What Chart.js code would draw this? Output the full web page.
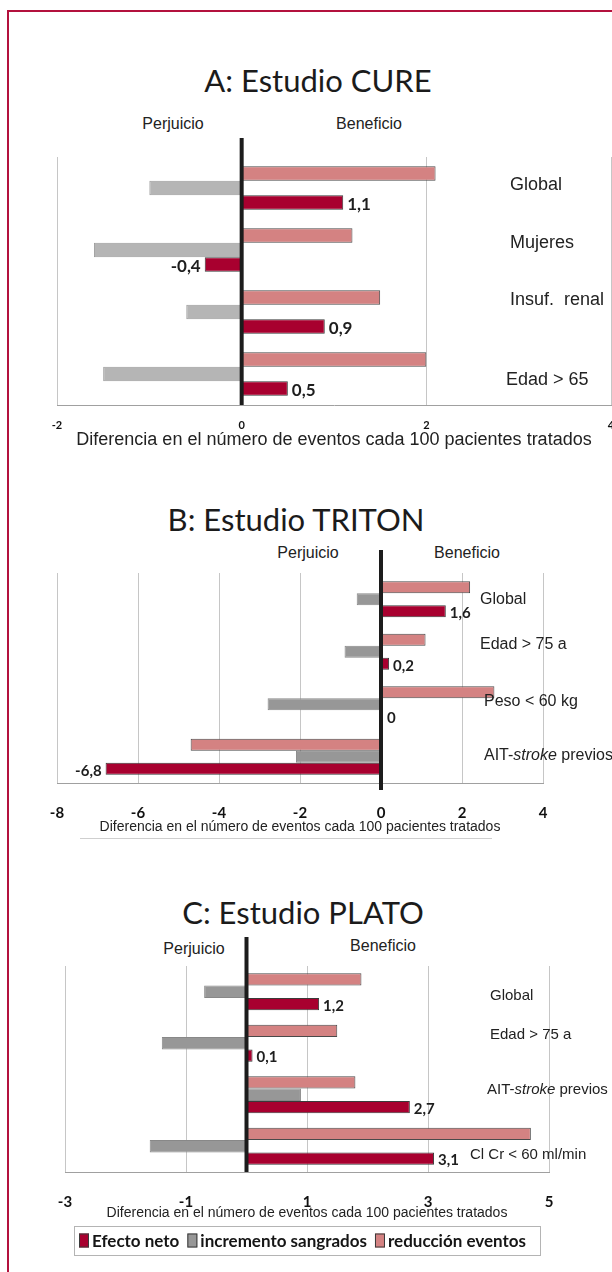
<!DOCTYPE html>
<html>
<head>
<meta charset="utf-8">
<script src="https://cdn.jsdelivr.net/npm/chart.js@4"></script>
<style>
  body { margin: 0; width: 612px; height: 1272px; background: #fff; position: relative; overflow: hidden;
         font-family: 'Liberation Sans', Arial, sans-serif; }
  .frame { position: absolute; left: 7px; top: 10px; width: 700px; height: 1400px; border: 2px solid #b3113d; }
  .panel { position: absolute; left: 0; width: 612px; }
  .ttl { position: absolute; font-family: Lato, sans-serif; font-size: 31px; line-height: 31px; color: #1b1b1b;
         transform: translateX(-50%); white-space: nowrap; }
  .side { position: absolute; font-size: 16px; line-height: 16px; color: #222; transform: translateX(-50%); white-space: nowrap; }
</style>
</head>
<body>
<div class="frame"></div>

<div class="ttl" style="left:318px; top:65px;">A: Estudio CURE</div>
<div class="side" style="left:173px; top:116px;">Perjuicio</div>
<div class="side" style="left:369px; top:116px;">Beneficio</div>
<div class="panel" style="top:130px; height:332px;"><canvas id="cure"></canvas></div>

<div class="ttl" style="left:296px; top:504px;">B: Estudio TRITON</div>
<div class="side" style="left:308px; top:545px;">Perjuicio</div>
<div class="side" style="left:467px; top:545px;">Beneficio</div>
<div class="panel" style="top:543px; height:302px;"><canvas id="triton"></canvas></div>

<div class="ttl" style="left:303px; top:897px;">C: Estudio PLATO</div>
<div class="side" style="left:194px; top:941px;">Perjuicio</div>
<div class="side" style="left:383px; top:938px;">Beneficio</div>
<div class="panel" style="top:935px; height:330px;"><canvas id="plato"></canvas></div>

<script>
// series names
const serieNames = ['Efecto neto', 'incremento sangrados', 'reducción eventos'];
const xTitle = 'Diferencia en el número de eventos cada 100 pacientes tratados';

// A: CURE
const cureCats = ['Global', 'Mujeres', 'Insuf.  renal', 'Edad > 65'];
const cureReduccion = [2.1, 1.2, 1.5, 2.0];
const cureSangrado = [-1.0, -1.6, -0.6, -1.5];
const cureNeto = [1.1, -0.4, 0.9, 0.5];
const cureTicks = [-2, 0, 2, 4];

// B: TRITON
const tritonCats = ['Global', 'Edad > 75 a', 'Peso < 60 kg', 'AIT-stroke previos'];
const tritonReduccion = [2.2, 1.1, 2.8, -4.7];
const tritonSangrado = [-0.6, -0.9, -2.8, -2.1];
const tritonNeto = [1.6, 0.2, 0, -6.8];
const tritonTicks = [-8, -6, -4, -2, 0, 2, 4];

// C: PLATO
const platoCats = ['Global', 'Edad > 75 a', 'AIT-stroke previos', 'Cl Cr < 60 ml/min'];
const platoReduccion = [1.9, 1.5, 1.8, 4.7];
const platoSangrado = [-0.7, -1.4, 0.9, -1.6];
const platoNeto = [1.2, 0.1, 2.7, 3.1];
const platoTicks = [-3, -1, 1, 3, 5];

const RED = '#a8002f';
const PINK = '#d48282';

function drawRich(ctx, text, x, y, size) {
    // "stroke" goes in italics, like the original
    text.split(/(stroke)/).forEach(part => {
        if (!part) return;
        ctx.font = (part === 'stroke' ? 'italic ' : '') + size + 'px "Liberation Sans", Arial';
        ctx.fillText(part, x, y);
        x += ctx.measureText(part).width;
    });
}

function fmt(v) {
    return String(v).replace('.', ',');
}

function makePanel(id, cats, reduccion, sangrado, neto, ticks, L) {
    const overlay = {
        id: 'overlay_' + id,
        afterDatasetsDraw(chart) {
            const ctx = chart.ctx;
            const xs = chart.scales.x, ys = chart.scales.y, area = chart.chartArea;
            ctx.save();
            // thick zero line
            const x0 = xs.getPixelForValue(0);
            ctx.strokeStyle = '#1c1c1c';
            ctx.lineWidth = 4;
            ctx.beginPath();
            ctx.moveTo(x0, area.top - L.zTop);
            ctx.lineTo(x0, area.bottom + L.zBot);
            ctx.stroke();

            // category names on the right
            ctx.fillStyle = '#222';
            ctx.textBaseline = 'middle';
            ctx.textAlign = 'left';
            cats.forEach((c, i) => {
                drawRich(ctx, c, L.labelX[i], ys.getPixelForValue(i) + L.labelDy[i], L.labelSize);
            });

            // net effect values
            const meta = chart.getDatasetMeta(2);
            ctx.font = 'bold ' + L.valSize + 'px Lato, sans-serif';
            ctx.fillStyle = '#1e1e1e';
            meta.data.forEach((bar, i) => {
                const v = neto[i];
                if (v < 0) {
                    ctx.textAlign = 'right';
                    ctx.fillText(fmt(v), bar.x - 4, bar.y + 2);
                } else {
                    ctx.textAlign = 'left';
                    ctx.fillText(fmt(v), Math.max(bar.x, x0 + 2) + 4, bar.y + 2);
                }
            });

            // faint rule under the axis title (panel B)
            if (L.rule) {
                ctx.strokeStyle = '#cfcfcf';
                ctx.lineWidth = 1;
                ctx.beginPath();
                ctx.moveTo(L.rule[0], L.rule[2] + 0.5);
                ctx.lineTo(L.rule[1], L.rule[2] + 0.5);
                ctx.stroke();
            }
            ctx.restore();
        },
        afterDraw(chart) {
            if (!L.legend) return;
            const ctx = chart.ctx;
            const b = L.legend;
            ctx.save();
            ctx.strokeStyle = '#b4b4b4';
            ctx.lineWidth = 1;
            ctx.strokeRect(b.left + 0.5, b.top + 0.5, b.width, b.height);
            const cols = [RED, L.grey, PINK];
            let x = b.left + 5;
            const cy = b.top + b.height / 2;
            ctx.font = 'bold 17px Lato, sans-serif';
            ctx.textBaseline = 'middle';
            ctx.textAlign = 'left';
            serieNames.forEach((name, i) => {
                ctx.fillStyle = cols[i];
                ctx.fillRect(x, cy - 7, 10, 14);
                ctx.strokeStyle = '#3a3a3a';
                ctx.strokeRect(x + 0.5, cy - 6.5, 9, 13);
                x += 13;
                ctx.fillStyle = '#151515';
                ctx.fillText(name, x, cy + 1);
                x += ctx.measureText(name).width + 8;
            });
            ctx.restore();
        }
    };

    return new Chart(document.getElementById(id), {
        type: 'bar',
        data: {
            labels: cats,
            datasets: [
                { label: serieNames[2], data: reduccion, backgroundColor: PINK, borderColor: '#4a4a4a' },
                { label: serieNames[1], data: sangrado, backgroundColor: L.grey, borderColor: L.greyBorder },
                { label: serieNames[0], data: neto, backgroundColor: RED, borderColor: '#3a3a3a' }
            ]
        },
        options: {
            indexAxis: 'y',
            responsive: true,
            maintainAspectRatio: false,
            animation: false,
            devicePixelRatio: 1,
            layout: { padding: L.pad },
            datasets: {
                bar: { borderWidth: 1, categoryPercentage: L.catPct, barPercentage: 1 }
            },
            plugins: { legend: { display: false }, tooltip: { enabled: false } },
            scales: {
                x: {
                    type: 'linear',
                    min: ticks[0],
                    max: ticks[ticks.length - 1],
                    afterBuildTicks: s => { s.ticks = ticks.map(v => ({ value: v })); },
                    afterFit: s => { s.height = L.xh; s.paddingLeft = 0; s.paddingRight = 0; },
                    grid: { color: '#c6c6c6', drawTicks: false },
                    border: { color: '#a0a0a0' },
                    ticks: {
                        font: { family: 'Lato', weight: 'bold', size: L.tickSize },
                        color: '#111',
                        padding: L.tickPad,
                        maxRotation: 0
                    },
                    title: {
                        display: true,
                        text: xTitle,
                        font: { family: 'Liberation Sans', size: L.titleSize },
                        color: '#222',
                        padding: { top: 0, bottom: L.titlePad }
                    }
                },
                y: { display: false }
            }
        },
        plugins: [overlay]
    });
}

makePanel('cure', cureCats, cureReduccion, cureSangrado, cureNeto, cureTicks, {
    pad: { left: 57, right: 1, top: 27, bottom: 0 },
    xh: 57, tickSize: 11, tickPad: 14, titleSize: 18, titlePad: 11,
    zTop: 19, zBot: 0,
    labelX: [510, 510, 510, 506], labelDy: [-3, -7, -12, 6], labelSize: 18, valSize: 17,
    grey: '#b5b5b5', greyBorder: '#9c9c9c', catPct: 0.7
});

makePanel('triton', tritonCats, tritonReduccion, tritonSangrado, tritonNeto, tritonTicks, {
    pad: { left: 57, right: 69, top: 30, bottom: 0 },
    xh: 62, tickSize: 15, tickPad: 21, titleSize: 14, titlePad: 9,
    zTop: 23, zBot: 7,
    labelX: [480, 480, 484, 484], labelDy: [0, -7, -3, -1], labelSize: 16, valSize: 15,
    grey: '#979797', greyBorder: '#888888', catPct: 0.69,
    rule: [80, 492, 295]
});

makePanel('plato', platoCats, platoReduccion, platoSangrado, platoNeto, platoTicks, {
    pad: { left: 65, right: 63, top: 31, bottom: 43 },
    xh: 50, tickSize: 15, tickPad: 21, titleSize: 14, titlePad: 0,
    zTop: 29, zBot: 0,
    labelX: [490, 490, 487, 470], labelDy: [4, -8, -5, 9], labelSize: 15, valSize: 15,
    grey: '#979797', greyBorder: '#888888', catPct: 0.72,
    legend: { left: 74, top: 291, width: 466, height: 29 }
});
</script>
</body>
</html>
